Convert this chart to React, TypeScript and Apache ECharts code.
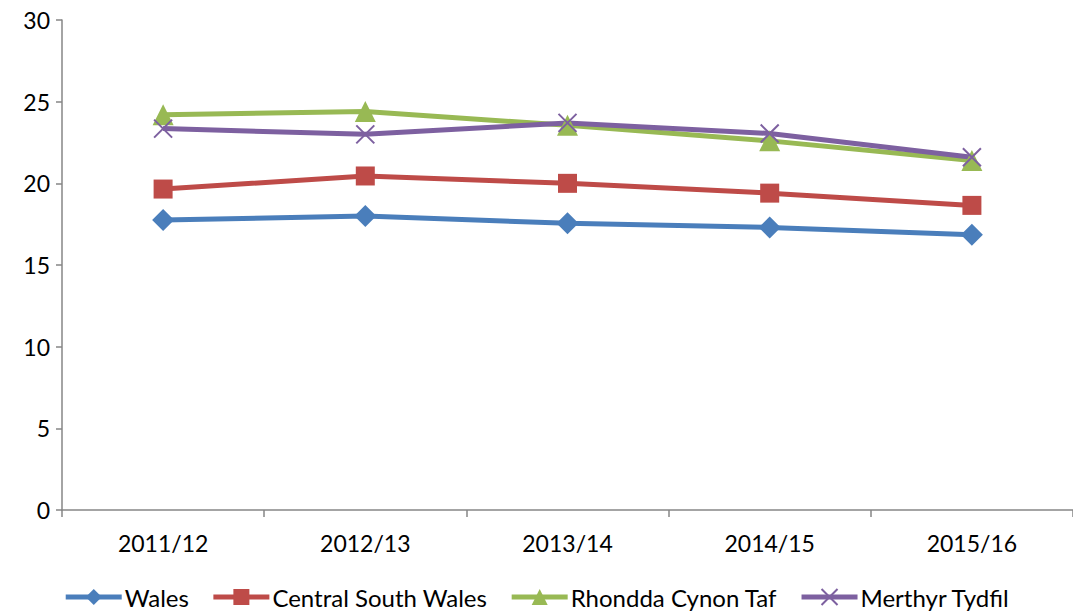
import React, { useEffect, useRef } from "react";
import * as echarts from "echarts";

const categories = ["2011/12", "2012/13", "2013/14", "2014/15", "2015/16"];
const wales = [17.75, 18.0, 17.55, 17.3, 16.85];
const centralSouthWales = [19.65, 20.45, 20.0, 19.4, 18.65];
const rhonddaCynonTaf = [24.2, 24.4, 23.55, 22.6, 21.4];
const merthyrTydfil = [23.35, 23.0, 23.7, 23.05, 21.6];
const yTicks = [0, 5, 10, 15, 20, 25, 30];

const FONT = "Lato, 'Open Sans', sans-serif";

export default function App() {
  const ref = useRef<HTMLDivElement>(null);
  useEffect(() => {
    document.body.style.margin = "0";
    if (!ref.current) return;
    const chart = echarts.init(ref.current, undefined, { renderer: "svg" });
    const mk = (name: string, data: number[], color: string, symbol: string, size: number, cross = false) => ({
      name,
      type: "line",
      data,
      symbol,
      symbolSize: size,
      lineStyle: { color, width: 5 },
      itemStyle: cross
        ? { color: "rgba(0,0,0,0)", borderColor: color, borderWidth: 2 }
        : { color },
      emphasis: { disabled: true },
    });
    chart.setOption({
      animation: false,
      textStyle: { fontFamily: FONT },
      grid: { left: 62, top: 20, width: 1030, height: 490 },
      xAxis: {
        type: "category",
        data: categories,
        boundaryGap: true,
        axisLine: { lineStyle: { color: "#868686", width: 1.5 } },
        axisTick: { show: true, length: 7, lineStyle: { color: "#868686", width: 1.5 } },
        axisLabel: { color: "#000", fontSize: 23, fontFamily: FONT, margin: 21 },
      },
      yAxis: {
        type: "value",
        min: yTicks[0],
        max: yTicks[yTicks.length - 1],
        interval: 5,
        axisLine: { show: true, lineStyle: { color: "#868686", width: 1.5 } },
        axisTick: { show: true, length: 6, lineStyle: { color: "#868686", width: 1.5 } },
        splitLine: { show: false },
        axisLabel: { color: "#000", fontSize: 23, fontFamily: FONT, margin: 12 },
      },
      legend: {
        bottom: 0,
        left: "center",
        itemWidth: 56,
        itemHeight: 20,
        itemGap: 22,
        lineStyle: { width: 5 },
        textStyle: { color: "#000", fontSize: 24, fontFamily: FONT, padding: [0, 0, 0, -2] },
        data: ["Wales", "Central South Wales", "Rhondda Cynon Taf", "Merthyr Tydfil"],
      },
      series: [
        mk("Wales", wales, "#4A7EBB", "diamond", 22),
        mk("Central South Wales", centralSouthWales, "#BE4B48", "rect", 19),
        mk("Rhondda Cynon Taf", rhonddaCynonTaf, "#98B954", "triangle", 21),
        mk("Merthyr Tydfil", merthyrTydfil, "#7D60A0", "path://M0,0L20,20M20,0L0,20", 18, true),
      ],
    });
    return () => chart.dispose();
  }, []);
  return <div ref={ref} style={{ width: 1073, height: 614 }} />;
}
